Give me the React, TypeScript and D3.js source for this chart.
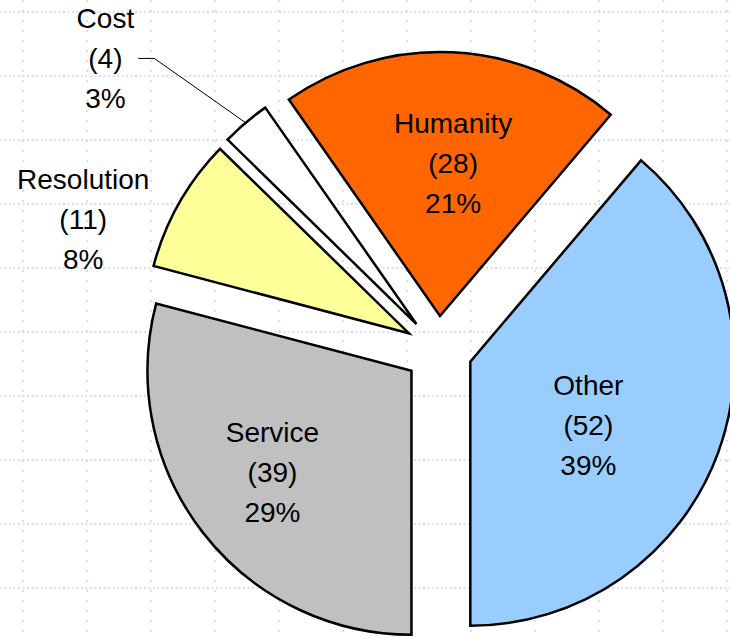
import React from "react";
import * as d3 from "d3";

// ---- data ----
const categories = ["Humanity", "Other", "Service", "Resolution", "Cost"];
const counts = [28, 52, 39, 11, 4];
const colors = ["#FF6600", "#99CCFF", "#C0C0C0", "#FFFF99", "#FFFFFF"];

// ---- layout ----
const W = 730;
const H = 638;
const CX = 438.4;
const CY = 350;
const R = 264;
const EXPLODE = 34;
const FONT = "'Liberation Sans', Arial, sans-serif";
const FONT_SIZE = 28;
const LINE_H = 40;
// label placement relative to each slice's (exploded) apex: angle (deg, clockwise from 12 o'clock), radius px
const labelPolar = [
  { a: 4.9, r: 153.6 },
  { a: 118.1, r: 133.8 },
  { a: 234, r: 171.8 },
  { a: 289.3, r: 345 },
  { a: 310.5, r: 409 },
];
const leaderFor = [false, false, false, false, true];

const dir = (deg: number) => {
  const t = (deg * Math.PI) / 180;
  return [Math.sin(t), -Math.cos(t)];
};

export default function App() {
  const total = d3.sum(counts);
  const data = categories.map((c, i) => ({ name: c, value: counts[i], color: colors[i], idx: i }));
  const start = Math.PI - (2 * Math.PI * (counts[0] + counts[1])) / total;
  const pie = d3
    .pie<any>()
    .sort(null)
    .value((d: any) => d.value)
    .startAngle(start)
    .endAngle(start + 2 * Math.PI);
  const arcs = pie(data);
  const arcGen = d3.arc<any>().innerRadius(0).outerRadius(R);

  const gridX = d3.range(23, W + 1, 64);
  const gridY = d3.range(12, H + 1, 64);

  return (
    <svg
      width={W}
      height={H}
      style={{ position: "absolute", left: 0, top: 0, background: "#ffffff" }}
    >
      <rect x={0} y={0} width={W} height={H} fill="#ffffff" />
      <g>
        {gridY.map((y) => (
          <line
            key={"h" + y}
            x1={0}
            x2={W}
            y1={y}
            y2={y}
            stroke="#c9d3f6"
            strokeWidth={1.5}
            strokeDasharray="2,2.5"
          />
        ))}
        {gridX.map((x) => (
          <line
            key={"v" + x}
            x1={x}
            x2={x}
            y1={0}
            y2={H}
            stroke="#c9d3f6"
            strokeWidth={1.5}
            strokeDasharray="2,8"
          />
        ))}
      </g>
      {arcs.map((a: any, i: number) => {
        const mid = ((a.startAngle + a.endAngle) / 2) * (180 / Math.PI);
        const [dx, dy] = dir(mid);
        const ox = CX + dx * EXPLODE;
        const oy = CY + dy * EXPLODE;
        return (
          <path
            key={"s" + i}
            d={arcGen(a) as string}
            transform={`translate(${ox},${oy})`}
            fill={a.data.color}
            stroke="#000"
            strokeWidth={2.5}
          />
        );
      })}
      {arcs.map((a: any, i: number) => {
        const mid = ((a.startAngle + a.endAngle) / 2) * (180 / Math.PI);
        const [dx, dy] = dir(mid);
        const ox = CX + dx * EXPLODE;
        const oy = CY + dy * EXPLODE;
        const lp = labelPolar[i];
        const [lx0, ly0] = dir(lp.a);
        const lx = ox + lx0 * lp.r;
        const ly = oy + ly0 * lp.r;
        const pct = Math.round((a.data.value / total) * 100) + "%";
        const lines = [a.data.name, `(${a.data.value})`, pct];
        let leader = null;
        if (leaderFor[i]) {
          const ex = ox + dx * R;
          const ey = oy + dy * R;
          leader = (
            <polyline
              points={`${lx + 33},${ly} ${lx + 49},${ly} ${ex},${ey}`}
              fill="none"
              stroke="#000"
              strokeWidth={1}
            />
          );
        }
        return (
          <g key={"l" + i}>
            {leader}
            <text
              x={lx}
              y={ly}
              textAnchor="middle"
              fontFamily={FONT}
              fontSize={FONT_SIZE}
              fill="#000"
            >
              {lines.map((t, k) => (
                <tspan key={k} x={lx} y={ly + 10 + (k - 1) * LINE_H}>
                  {t}
                </tspan>
              ))}
            </text>
          </g>
        );
      })}
    </svg>
  );
}
